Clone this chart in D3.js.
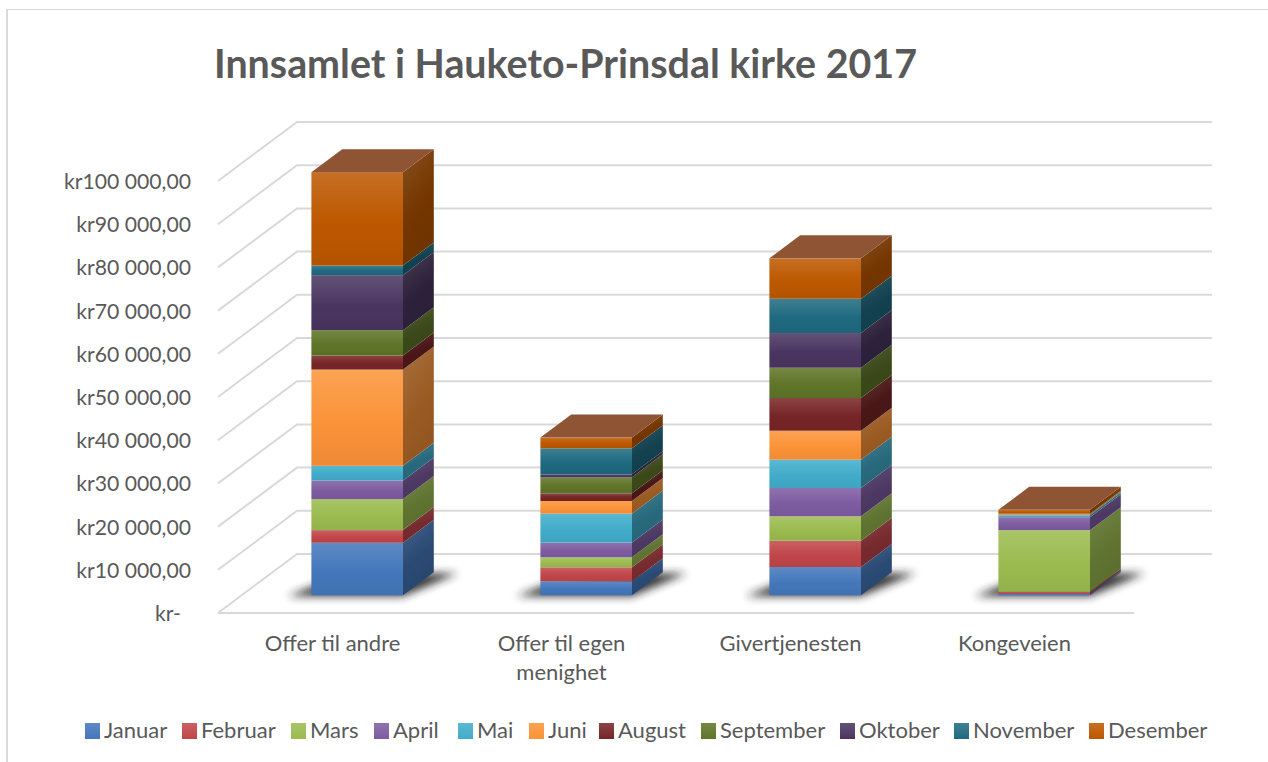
<!DOCTYPE html>
<html lang="en">
<head>
<meta charset="UTF-8">
<title>Innsamlet i Hauketo-Prinsdal kirke 2017</title>
<script src="https://d3js.org/d3.v7.min.js"></script>
<style>
    html, body { margin: 0; padding: 0; background: #fff; overflow: hidden; }
    svg { display: block; }
    text { font-family: Lato, Carlito, sans-serif; fill: #595959; }
    .tick text { font-size: 21.2px; }
</style>
</head>
<body>
<svg id="chart" width="1268" height="762"></svg>
<script>
const categories = ["Offer til andre", "Offer til egen menighet", "Givertjenesten", "Kongeveien"];
const months = ["Januar", "Februar", "Mars", "April", "Mai", "Juni", "August", "September", "Oktober", "November", "Desember"];
const colors = ["#4477bb", "#c0464a", "#9bbb4f", "#7d5ca0", "#41acca", "#fb9338", "#772526", "#5f7528", "#4a3560", "#1f6a80", "#bd5800"];
const yTicks = [0, 10000, 20000, 30000, 40000, 50000, 60000, 70000, 80000, 90000, 100000];

// kroner per month, one array per category
const offerAndre = [12150, 2940, 7175, 4305, 3400, 22290, 3240, 5880, 12730, 2220, 21620];
const offerEgen = [3240, 3240, 2315, 3400, 6710, 2920, 1780, 3700, 700, 6020, 2480];
const givertjenesten = [6550, 6090, 5650, 6550, 6550, 6710, 7570, 7010, 8030, 7940, 9350];
const kongeveien = [350, 450, 14280, 3010, 460, 230, 0, 0, 0, 100, 900];
const values = [offerAndre, offerEgen, givertjenesten, kongeveien];

const svg = d3.select("#chart");
const defs = svg.append("defs");

// floor front edge, and how far the back wall is shifted from it
const floor = { left: 218, right: 1134, y: 613 };
const depth = { dx: 79, dy: -59 };

const x = d3.scaleBand().domain(categories).range([floor.left, floor.right]);
const y = d3.scaleLinear().domain([0, 100000]).range([floor.y, 181]);
const barWidth = x.bandwidth() * 0.4;

// outer border, only left and top show in the picture
svg.append("path")
    .attr("d", "M7,762V9.5H1268")
    .attr("fill", "none")
    .attr("stroke", "#d9d9d9");
svg.append("line")
    .attr("x1", 7).attr("x2", 7).attr("y1", 9).attr("y2", 762)
    .attr("stroke", "#d9d9d9").attr("stroke-width", 2);

svg.append("text")
    .attr("x", 214)
    .attr("y", 78)
    .attr("font-size", 39.4)
    .attr("font-weight", 700)
    .text("Innsamlet i Hauketo-Prinsdal kirke 2017");

// walls
const grid = svg.append("g").attr("fill", "none").attr("stroke", "#d9d9d9").attr("stroke-width", 2);
yTicks.forEach(t => {
    const pts = [
        [floor.left, y(t)],
        [floor.left + depth.dx, y(t) + depth.dy],
        [floor.right + depth.dx - 1, y(t) + depth.dy]
    ];
    grid.append("path").attr("d", d3.line()(pts));
});
grid.append("line")
    .attr("x1", floor.left).attr("x2", floor.right)
    .attr("y1", floor.y).attr("y2", floor.y);

// y axis
const formatKr = d => d === 0 ? "kr-" : "kr" + d3.format(",")(d).replace(",", " ") + ",00";
const yAxis = svg.append("g")
    .attr("transform", "translate(191,0)")
    .call(d3.axisLeft(y).tickValues(yTicks).tickFormat(formatKr).tickSize(0).tickPadding(0));
yAxis.select(".domain").remove();
yAxis.selectAll(".tick text")
    .attr("dy", "0.35em")
    .filter(d => d === 0).attr("dx", -10);

// category labels
const catLabels = svg.append("g").attr("text-anchor", "middle");
categories.forEach(c => {
    const lines = c === "Offer til egen menighet" ? ["Offer til egen", "menighet"] : [c];
    const shift = c === "Kongeveien" ? -5 : 0;
    lines.forEach((l, i) => {
        catLabels.append("text")
            .attr("x", x(c) + x.bandwidth() / 2 + shift)
            .attr("y", 651 + i * 29)
            .attr("font-size", 22)
            .text(l);
    });
});

// gradients
function gradient(id, stops, x2, y2) {
    const g = defs.append("linearGradient").attr("id", id)
        .attr("x1", 0).attr("y1", 0).attr("x2", x2).attr("y2", y2);
    stops.forEach(s => g.append("stop").attr("offset", s[0]).attr("stop-color", s[1]));
}
months.forEach((m, i) => {
    const c = d3.rgb(colors[i]);
    const light = d3.interpolateRgb(c, "#fff")(0.14);
    const dark = c.darker(0.15);
    gradient("front" + i, [[0, light], [0.55, c.formatHex()], [1, dark.formatHex()]], 0, 1);
    const side = c.darker(1.35);
    const sideLight = d3.interpolateRgb(side, "#fff")(0.13);
    gradient("side" + i, [[0, sideLight], [0.6, side.formatHex()], [1, c.darker(1.5).formatHex()]], 0.35, 1);
    gradient("swatch" + i, [[0, light], [1, c.formatHex()]], 0, 1);
});

const blur = defs.append("filter").attr("id", "blur")
    .attr("x", "-30%").attr("y", "-60%").attr("width", "160%").attr("height", "220%");
blur.append("feGaussianBlur").attr("stdDeviation", 4);

const stack = d3.stack()
    .keys(d3.range(months.length))
    .value((row, k) => row[k])(values);

const bars = svg.append("g");
const offX = depth.dx * 0.3 + 1, offY = depth.dy * 0.3;
const barDx = depth.dx * 0.39, barDy = depth.dy * 0.39;

categories.forEach((c, ci) => {
    const x0 = x(c) + (x.bandwidth() - barWidth) / 2 + offX;
    const x1 = x0 + barWidth;
    const yAt = v => y(v) + offY;
    const g = bars.append("g");

    // shadow on the floor
    g.append("path")
        .attr("d", d3.line()([
            [x0 - 24, yAt(0) + 1], [x1, yAt(0) + 1],
            [x1 + barDx + 24, yAt(0) + barDy + 1], [x1 + barDx - 8, yAt(0) + barDy + 1],
            [x0 + 4, yAt(0) - 10]
        ]) + "Z")
        .attr("fill", "#222")
        .attr("opacity", 0.9)
        .attr("filter", "url(#blur)");

    months.forEach((m, mi) => {
        const v0 = stack[mi][ci][0], v1 = stack[mi][ci][1];
        if (v1 === v0) return;
        g.append("path")
            .attr("d", d3.line()([
                [x1, yAt(v0)], [x1 + barDx, yAt(v0) + barDy],
                [x1 + barDx, yAt(v1) + barDy], [x1, yAt(v1)]
            ]) + "Z")
            .attr("fill", `url(#side${mi})`);
        g.append("rect")
            .attr("x", x0).attr("y", yAt(v1))
            .attr("width", barWidth).attr("height", yAt(v0) - yAt(v1))
            .attr("fill", `url(#front${mi})`);
    });

    const total = d3.sum(values[ci]);
    g.append("path")
        .attr("d", d3.line()([
            [x0, yAt(total)], [x1, yAt(total)],
            [x1 + barDx, yAt(total) + barDy], [x0 + barDx, yAt(total) + barDy]
        ]) + "Z")
        .attr("fill", "#8f5434");
});

// legend, the gaps in the original are uneven so the slots are listed here
const legendSlots = [85, 182, 291, 374, 458, 529, 599, 701, 840, 954, 1089];
const legend = svg.append("g").attr("font-size", 22);
months.forEach((m, i) => {
    legend.append("rect")
        .attr("x", legendSlots[i]).attr("y", 723)
        .attr("width", 15).attr("height", 16)
        .attr("fill", `url(#swatch${i})`);
    legend.append("text")
        .attr("x", legendSlots[i] + 19)
        .attr("y", 738)
        .text(m);
});
</script>
</body>
</html>
